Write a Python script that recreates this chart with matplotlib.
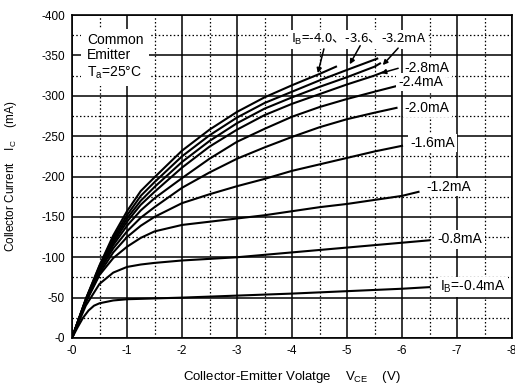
import matplotlib.pyplot as plt

plt.rcParams['font.family'] = ['Liberation Sans', 'Noto Sans CJK JP']
plt.rcParams['mathtext.fontset'] = 'custom'
plt.rcParams['mathtext.rm'] = 'Liberation Sans'
plt.rcParams['mathtext.it'] = 'Liberation Sans'

# --------------- data (Vce [V], Ic [mA], magnitudes) ---------------
vce_04 = [0, 0.1, 0.2, 0.3, 0.4, 0.5, 0.75, 1, 1.5, 2, 3, 4, 5, 6, 6.5]
ic_04 = [0, 13, 25, 34, 40, 43, 46.5, 48, 49, 50, 52.5, 55, 58, 61, 63]

vce_08 = [0, 0.25, 0.5, 0.75, 1, 1.25, 1.5, 2, 2.5, 3, 3.5, 4, 4.5, 5, 5.5, 6, 6.5]
ic_08 = [0, 40, 67, 81, 88, 91, 93, 96, 98, 100, 103, 106, 109, 112, 115, 118, 121]

vce_12 = [0, 0.25, 0.5, 0.75, 1, 1.25, 1.5, 2, 2.5, 3, 3.5, 4, 4.5, 5, 5.5, 6, 6.3]
ic_12 = [0, 44, 78, 99, 113, 124, 132, 140, 144, 148, 152, 157, 162, 166, 171, 176, 181]

vce_16 = [0, 0.25, 0.5, 0.75, 1, 1.25, 1.5, 2, 2.5, 3, 3.5, 4, 4.5, 5, 5.5, 6]
ic_16 = [0, 45, 80, 106, 125, 139, 150, 167, 178, 188, 197, 207, 215, 223, 231, 238]

vce_20 = [0, 0.25, 0.5, 0.75, 1, 1.25, 1.5, 2, 2.5, 3, 3.5, 4, 4.5, 5, 5.5, 5.9]
ic_20 = [0, 46, 83, 111, 132, 149, 162, 186, 205, 222, 236, 249, 261, 271, 279, 285]

vce_24 = [0, 0.25, 0.5, 0.75, 1, 1.25, 1.5, 2, 2.5, 3, 3.5, 4, 4.5, 5, 5.5, 5.9]
ic_24 = [0, 46, 85, 115, 139, 158, 173, 198, 222, 243, 259, 274, 286, 296, 305, 312]

vce_28 = [0, 0.25, 0.5, 0.75, 1, 1.25, 1.5, 2, 2.5, 3, 3.5, 4, 4.5, 5, 5.5, 5.65]
ic_28 = [0, 47, 86, 118, 144, 165, 181, 211, 237, 258, 276, 290, 302, 314, 325, 329]

vce_32 = [0, 0.25, 0.5, 0.75, 1, 1.25, 1.5, 2, 2.5, 3, 3.5, 4, 4.5, 5, 5.5, 5.6]
ic_32 = [0, 47, 87, 121, 148, 170, 187, 218, 244, 266, 284, 298, 311, 323, 336, 340]

vce_36 = [0, 0.25, 0.5, 0.75, 1, 1.25, 1.5, 2, 2.5, 3, 3.5, 4, 4.5, 5, 5.55]
ic_36 = [0, 48, 89, 124, 152, 176, 193, 225, 251, 273, 291, 305, 319, 332, 346]

vce_40 = [0, 0.25, 0.5, 0.75, 1, 1.25, 1.5, 2, 2.5, 3, 3.5, 4, 4.5, 4.8]
ic_40 = [0, 48, 90, 127, 157, 182, 199, 232, 258, 280, 298, 313, 327, 336]

curves = [(vce_04, ic_04), (vce_08, ic_08), (vce_12, ic_12), (vce_16, ic_16),
          (vce_20, ic_20), (vce_24, ic_24), (vce_28, ic_28), (vce_32, ic_32),
          (vce_36, ic_36), (vce_40, ic_40)]

x_ticks = [0, -1, -2, -3, -4, -5, -6, -7, -8]
x_labels = ["-0", "-1", "-2", "-3", "-4", "-5", "-6", "-7", "-8"]
y_ticks = [0, -50, -100, -150, -200, -250, -300, -350, -400]
y_labels = ["-0", "-50", "-100", "-150", "-200", "-250", "-300", "-350", "-400"]

# curve labels: text, Vce, Ic
lbl_text = ["-2.8mA", "-2.4mA", "-2.0mA", "-1.6mA", "-1.2mA", "-0.8mA",
            "I$_{\\rm B}$=-0.4mA"]
lbl_v = [-6.05, -5.93, -6.05, -6.15, -6.45, -6.65, -6.69]
lbl_i = [-334, -317, -285, -241, -187, -122, -63]

# arrows: tail (V, I) -> head (V, I)
arr_tail = [(-4.58, -358), (-5.24, -362), (-5.93, -359), (-5.93, -334)]
arr_head = [(-4.47, -328), (-5.05, -339), (-5.65, -338), (-5.62, -328)]

# ********** 描写 **********
fig = plt.figure(figsize=(5.15, 3.9), dpi=100)
ax = fig.add_axes([72 / 515, 52 / 390, 440 / 515, 323 / 390])

for v, i in curves:
    ax.plot([-x for x in v], [-y for y in i], color="black", lw=1.5, zorder=3)

ax.set_xlim(0, -8)
ax.set_ylim(0, -400)
ax.set_xticks(x_ticks)
ax.set_xticklabels(x_labels)
ax.set_yticks(y_ticks)
ax.set_yticklabels(y_labels)
ax.set_xticks([-0.5 - k for k in range(8)], minor=True)
ax.set_yticks([-25 - 50 * k for k in range(8)], minor=True)
ax.tick_params(which="both", length=0, labelsize=8.5, pad=5)
ax.grid(which="major", color="black", lw=1.1, ls="-", zorder=1)
ax.grid(which="minor", color="black", lw=0.9, ls=(0, (1.2, 1.8)), zorder=1)
ax.set_axisbelow(True)
for s in ax.spines.values():
    s.set_linewidth(1.2)

ax.set_xlabel("Collector-Emitter Volatge    V$_{\\rm CE}$    (V)", fontsize=9.5, labelpad=9)
ax.set_ylabel("Collector Current    I$_{\\rm C}$    (mA)", fontsize=8.5, labelpad=16)

box = dict(fc="white", ec="none", pad=1.5)
ax.text(-0.27, -378, "Common\nEmitter\nT$_{\\rm a}$=25°C", fontsize=10, va="top",
        ha="left", linespacing=1.15, bbox=dict(fc="white", ec="none", pad=4), zorder=5)
ax.text(-3.98, -370, "I$_{\\rm B}$=-4.0、-3.6、-3.2mA", fontsize=9.5, va="center",
        ha="left", family="Noto Sans CJK JP", bbox=box, zorder=5)
for t, v, i in zip(lbl_text, lbl_v, lbl_i):
    ax.text(v, i, t, fontsize=10, va="center", ha="left", bbox=box, zorder=5)

for tail, head in zip(arr_tail, arr_head):
    ax.annotate("", xy=head, xytext=tail, zorder=6,
                arrowprops=dict(arrowstyle="-|>", color="black", lw=1.1,
                                mutation_scale=7, shrinkA=0, shrinkB=0))

fig.savefig("out.png", dpi=100)
